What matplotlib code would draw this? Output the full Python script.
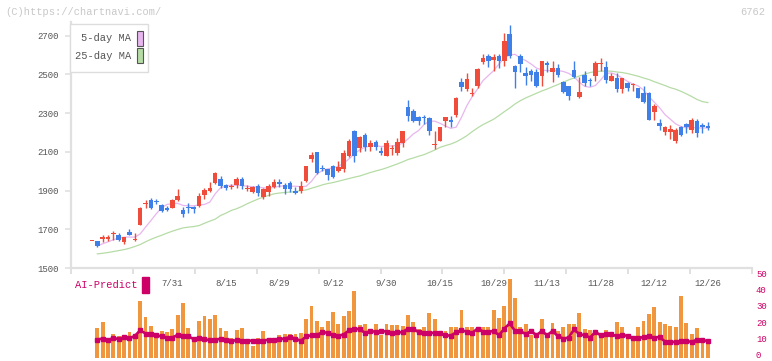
import numpy as np
import matplotlib
matplotlib.use('Agg')
import matplotlib.pyplot as plt
import matplotlib.transforms as mtransforms
from matplotlib.patches import Rectangle

plt.rcParams['font.family'] = ['Liberation Mono', 'DejaVu Sans Mono']

# ---------------------------------------------------------------------------
# data (index 0 = first session shown)
# ---------------------------------------------------------------------------
opens = [1638, 1637, 1649, 1649, 1676, 1671, 1633, 1685, 1645, 1723,
         1832, 1852, 1847, 1823, 1812, 1811, 1853, 1797, 1813, 1814,
         1819, 1876, 1900, 1938, 1957, 1926, 1916, 1929, 1957, 1907,
         1891, 1922, 1865, 1891, 1917, 1946, 1926, 1938, 1896, 1900,
         1951, 2063, 2101, 2017, 2010, 2029, 2000, 2013, 2080, 2209,
         2118, 2189, 2123, 2153, 2106, 2077, 2116, 2092, 2145, 2333,
         2313, 2282, 2280, 2275, 2135, 2158, 2261, 2265, 2292, 2462,
         2425, 2400, 2438, 2562, 2597, 2576, 2592, 2571, 2708, 2545,
         2597, 2505, 2515, 2510, 2490, 2557, 2510, 2534, 2459, 2442,
         2524, 2385, 2498, 2470, 2490, 2553, 2536, 2467, 2481, 2423,
         2456, 2445, 2428, 2402, 2402, 2304, 2249, 2201, 2204, 2158,
         2227, 2244, 2215, 2261, 2237, 2232]
highs = [1641, 1637, 1669, 1669, 1693, 1682, 1662, 1702, 1682, 1816,
         1853, 1862, 1857, 1828, 1822, 1857, 1909, 1817, 1838, 1819,
         1886, 1914, 1945, 1998, 1977, 1936, 1936, 1969, 1969, 1929,
         1922, 1934, 1914, 1936, 1957, 1960, 1940, 1950, 1917, 1951,
         2029, 2101, 2101, 2030, 2012, 2031, 2051, 2111, 2167, 2213,
         2184, 2199, 2160, 2160, 2127, 2162, 2136, 2172, 2209, 2369,
         2320, 2287, 2290, 2278, 2206, 2229, 2280, 2285, 2382, 2483,
         2509, 2430, 2530, 2605, 2605, 2605, 2605, 2711, 2756, 2548,
         2605, 2536, 2525, 2525, 2571, 2571, 2571, 2553, 2467, 2442,
         2571, 2484, 2515, 2483, 2567, 2582, 2571, 2509, 2509, 2481,
         2462, 2456, 2428, 2442, 2411, 2347, 2270, 2232, 2240, 2225,
         2232, 2249, 2275, 2270, 2249, 2252]
lows = [1638, 1607, 1633, 1641, 1647, 1638, 1626, 1668, 1637, 1720,
        1811, 1803, 1832, 1788, 1793, 1808, 1848, 1762, 1786, 1786,
        1814, 1857, 1891, 1932, 1914, 1904, 1909, 1914, 1909, 1900,
        1886, 1870, 1855, 1870, 1914, 1917, 1883, 1890, 1881, 1888,
        1946, 2046, 1984, 1999, 1955, 1966, 1994, 1994, 2072, 2046,
        2098, 2106, 2106, 2110, 2082, 2077, 2082, 2082, 2127, 2261,
        2255, 2237, 2242, 2189, 2115, 2155, 2230, 2230, 2282, 2412,
        2416, 2386, 2430, 2553, 2536, 2519, 2530, 2541, 2585, 2428,
        2514, 2447, 2466, 2436, 2438, 2514, 2462, 2488, 2402, 2369,
        2480, 2376, 2442, 2442, 2467, 2519, 2456, 2467, 2407, 2404,
        2416, 2416, 2376, 2350, 2266, 2266, 2210, 2189, 2167, 2144,
        2180, 2199, 2199, 2178, 2199, 2210]
closes = [1641, 1612, 1662, 1662, 1683, 1647, 1659, 1668, 1648, 1811,
          1836, 1811, 1842, 1793, 1802, 1852, 1874, 1780, 1810, 1803,
          1874, 1903, 1914, 1991, 1922, 1914, 1921, 1957, 1922, 1911,
          1917, 1888, 1909, 1922, 1946, 1934, 1909, 1909, 1886, 1922,
          2029, 2082, 1989, 2013, 1982, 1972, 2020, 2092, 2158, 2080,
          2175, 2123, 2145, 2123, 2092, 2146, 2120, 2153, 2209, 2287,
          2257, 2261, 2276, 2206, 2139, 2227, 2277, 2252, 2380, 2436,
          2477, 2405, 2527, 2585, 2567, 2588, 2567, 2674, 2593, 2510,
          2553, 2490, 2498, 2442, 2571, 2550, 2534, 2498, 2407, 2386,
          2484, 2411, 2454, 2465, 2557, 2560, 2473, 2490, 2425, 2481,
          2428, 2449, 2376, 2355, 2266, 2338, 2235, 2227, 2218, 2215,
          2189, 2227, 2266, 2196, 2227, 2225]

# moving averages as drawn (start at session 1)
ma5 = [1615, 1625, 1635, 1646, 1654, 1659, 1660, 1659, 1676, 1711,
       1745, 1780, 1811, 1828, 1832, 1834, 1823, 1821, 1821, 1826,
       1828, 1840, 1883, 1914, 1924, 1927, 1927, 1926, 1922, 1920,
       1917, 1914, 1912, 1917, 1922, 1924, 1922, 1922, 1920, 1922,
       1948, 1985, 2003, 2012, 2017, 2024, 2041, 2063, 2089, 2110,
       2124, 2130, 2132, 2127, 2130, 2130, 2134, 2144, 2166, 2192,
       2210, 2240, 2258, 2258, 2247, 2233, 2221, 2227, 2278, 2338,
       2385, 2424, 2467, 2493, 2519, 2553, 2584, 2600, 2603, 2584,
       2571, 2553, 2532, 2522, 2519, 2519, 2519, 2515, 2505, 2488,
       2459, 2438, 2433, 2442, 2471, 2505, 2507, 2497, 2481, 2464,
       2450, 2440, 2419, 2385, 2356, 2327, 2292, 2268, 2244, 2230,
       2223, 2227, 2223, 2223, 2223]
ma25 = [1573, 1576, 1580, 1585, 1590, 1595, 1602, 1611, 1621, 1635,
        1648, 1659, 1669, 1680, 1690, 1699, 1707, 1711, 1714, 1719,
        1731, 1742, 1752, 1771, 1783, 1797, 1806, 1818, 1832, 1844,
        1856, 1866, 1875, 1883, 1887, 1890, 1892, 1894, 1900, 1903,
        1912, 1920, 1929, 1936, 1941, 1948, 1955, 1962, 1969, 1975,
        1984, 1993, 2001, 2008, 2017, 2027, 2037, 2048, 2060, 2068,
        2077, 2085, 2097, 2109, 2123, 2132, 2140, 2151, 2166, 2183,
        2204, 2223, 2240, 2254, 2268, 2287, 2307, 2326, 2347, 2364,
        2378, 2390, 2402, 2414, 2424, 2436, 2447, 2459, 2471, 2481,
        2491, 2500, 2509, 2514, 2516, 2517, 2516, 2512, 2509, 2504,
        2497, 2490, 2481, 2473, 2462, 2452, 2442, 2431, 2423, 2412,
        2399, 2385, 2370, 2359, 2354]

# lower panel (sessions 1..115)
volume = [18.6, 22.3, 10.3, 14.9, 13.8, 13.4, 16.1, 13.8, 35.3, 25.2,
          19.6, 15.5, 16.7, 16.1, 17.8, 26.4, 34.1, 18.6, 11.0, 22.7,
          25.8, 24.0, 26.4, 18.6, 16.7, 12.6, 17.1, 18.6, 11.0, 7.2,
          12.4, 16.7, 12.4, 12.6, 14.0, 14.7, 14.9, 14.7, 15.5, 24.2,
          32.0, 22.9, 19.2, 22.7, 28.5, 20.9, 25.8, 28.9, 41.3, 20.2,
          21.1, 17.1, 21.1, 14.0, 20.9, 20.2, 20.2, 19.8, 26.4, 22.3,
          18.2, 19.2, 27.9, 24.0, 16.7, 16.5, 19.0, 19.2, 29.5, 19.2,
          19.2, 16.7, 19.2, 19.2, 29.5, 24.4, 32.0, 48.8, 37.2, 19.2,
          20.9, 14.0, 13.4, 24.0, 12.4, 21.7, 16.7, 19.2, 20.9, 20.9,
          27.9, 18.2, 17.1, 16.1, 12.4, 17.1, 15.1, 22.3, 19.2, 13.0,
          13.0, 19.2, 22.7, 27.1, 31.6, 22.3, 20.9, 19.8, 19.2, 38.4,
          21.3, 14.7, 18.6, 11.0, 10.7]
ai_predict = [11.4, 12.0, 11.0, 12.4, 11.6, 13.0, 12.2, 13.6, 17.1, 15.1,
              15.1, 14.0, 13.4, 12.6, 12.6, 14.3, 13.4, 13.4, 11.6, 12.6,
              11.6, 11.0, 11.4, 11.8, 11.4, 10.5, 11.0, 10.7, 10.7, 10.7,
              10.7, 10.7, 11.4, 11.4, 11.6, 12.0, 13.0, 12.0, 10.5, 13.4,
              14.0, 14.0, 16.1, 15.5, 14.3, 13.8, 14.5, 17.1, 18.2, 17.6,
              15.5, 16.7, 16.1, 16.7, 16.3, 15.7, 15.9, 15.9, 18.2, 18.0,
              15.9, 15.5, 15.5, 15.5, 15.5, 14.0, 13.8, 15.9, 17.1, 16.3,
              15.5, 18.2, 16.3, 16.1, 16.7, 14.0, 18.2, 21.3, 16.7, 16.7,
              14.7, 16.7, 14.0, 16.7, 14.0, 16.7, 13.4, 12.0, 12.6, 17.6,
              14.7, 14.0, 12.6, 16.1, 14.0, 14.7, 14.7, 13.4, 14.0, 13.8,
              12.4, 12.2, 13.0, 13.4, 12.6, 13.0, 10.1, 9.9, 9.9, 10.3,
              10.5, 9.9, 11.4, 11.0, 10.5]

date_labels = ['7/31', '8/15', '8/29', '9/12', '9/30', '10/15',
               '10/29', '11/13', '11/28', '12/12', '12/26']
date_pos = [15, 25, 35, 45, 55, 65, 75, 85, 95, 105, 115]
price_ticks = [1500, 1700, 1900, 2100, 2300, 2500, 2700]
ai_ticks = [0, 10, 20, 30, 40, 50]

# ---------------------------------------------------------------------------
# styling
# ---------------------------------------------------------------------------
W, H = 772, 361
RED = '#ef4c3c'
BLUE = '#3f7fe8'
PINK = '#e8b6ee'
GREEN = '#b6dca6'
ORANGE = '#f0963e'
MAGENTA = '#cc0066'
GRID = '#e0e0e0'
TXT = '#555555'


def fx(x):
    return x / W


def fy(y):
    return 1 - y / H


fig = plt.figure(figsize=(W / 100, H / 100), dpi=100)

# price panel: left edge 71px, right 752px, top 22px, bottom 268px
ax = fig.add_axes([fx(71), fy(268), fx(752) - fx(71), fy(22) - fy(268)])
x0, x1 = (71 - 92) / 5.355, (752 - 92) / 5.355
ax.set_xlim(x0, x1)
ax.set_ylim(1500, 2770)

o = np.array(opens, float)
h = np.array(highs, float)
l = np.array(lows, float)
c = np.array(closes, float)
idx = np.arange(len(o))
cols = np.where(c >= o, RED, BLUE)

ax.vlines(idx, l, h, colors=cols, lw=1, zorder=3)
body_lo = np.minimum(o, c)
body_h = np.maximum(np.abs(c - o), 4)
ax.bar(idx, body_h, bottom=body_lo, width=0.85, color=cols, lw=0, zorder=4)

ma_x = np.arange(1, len(ma5) + 1)
ax.plot(ma_x, ma5, color=PINK, lw=0.9, zorder=2)
ax.plot(ma_x, ma25, color=GREEN, lw=0.9, zorder=2)

for side in ['top', 'right']:
    ax.spines[side].set_visible(False)
for side in ['left', 'bottom']:
    ax.spines[side].set_color(GRID)
    ax.spines[side].set_linewidth(1.6)

ax.set_yticks(price_ticks)
ax.set_yticklabels([str(t) for t in price_ticks])
ax.set_xticks(np.linspace(x0, x1, 12))
ax.set_xticklabels([])
ax.tick_params(axis='y', length=4.5, width=1.2, color=GRID, pad=4,
               labelsize=6.5, labelcolor=TXT)
ax.tick_params(axis='x', length=4, width=1.4, color=GRID)
ax.patch.set_alpha(0)

# date labels between the panels
date_tr = mtransforms.blended_transform_factory(ax.transData, fig.transFigure)
for p, lab in zip(date_pos, date_labels):
    ax.text(p, fy(283), lab, transform=date_tr,
            ha='center', va='center', fontsize=6.5, color=TXT)

# lower panel
axv = fig.add_axes([fx(71), fy(358), fx(752) - fx(71), fy(277) - fy(358)])
axv.set_xlim(x0, x1)
axv.set_ylim(0, 50)
vx = np.arange(1, len(volume) + 1)
axv.bar(vx, volume, width=0.72, color=ORANGE, lw=0, zorder=2)
axv.plot(vx, ai_predict, color=MAGENTA, lw=1.9, marker='s', ms=2.2,
         zorder=3)
for s in axv.spines.values():
    s.set_visible(False)
axv.set_xticks([])
axv.set_yticks([])
axv.patch.set_alpha(0)

# right-hand scale for the AI-Predict line, nudged up so "0" stays inside
lab_tr = mtransforms.blended_transform_factory(axv.transAxes, axv.transData) \
    + mtransforms.ScaledTranslation(0, 2.5 / 100, fig.dpi_scale_trans)
for v in ai_ticks:
    axv.text(1 + 4 / 681, v, str(v), transform=lab_tr, ha='left',
             va='center', fontsize=6.5, color=MAGENTA, clip_on=False)

# AI-Predict label
fig.text(fx(75), fy(285), 'AI-Predict', fontsize=7.5, color=MAGENTA,
         ha='left', va='center')
fig.patches.append(Rectangle((fx(142), fy(293)), fx(7), fy(0) - fy(16),
                             transform=fig.transFigure, color=MAGENTA))

# legend box
fig.patches.append(Rectangle((fx(70), fy(72)), fx(78), fy(0) - fy(48),
                             transform=fig.transFigure, facecolor='white',
                             edgecolor='#dddddd', lw=1, zorder=5))
fig.text(fx(131), fy(38), '5-day MA', fontsize=7.5, color=TXT,
         ha='right', va='center', zorder=6)
fig.text(fx(131), fy(56), '25-day MA', fontsize=7.5, color=TXT,
         ha='right', va='center', zorder=6)
fig.patches.append(Rectangle((fx(137), fy(46)), fx(6), fy(0) - fy(15),
                             transform=fig.transFigure, facecolor=PINK,
                             edgecolor='#555555', lw=0.8, zorder=6))
fig.patches.append(Rectangle((fx(137), fy(63)), fx(6), fy(0) - fy(15),
                             transform=fig.transFigure, facecolor=GREEN,
                             edgecolor='#555555', lw=0.8, zorder=6))

# header texts
fig.text(fx(5), fy(12), '(C)https://chartnavi.com/', fontsize=7.5,
         color='#c8c8c8', ha='left', va='center')
fig.text(fx(765), fy(12), '6762', fontsize=7.5, color='#c8c8c8',
         ha='right', va='center')

fig.savefig('out.png', dpi=100)
